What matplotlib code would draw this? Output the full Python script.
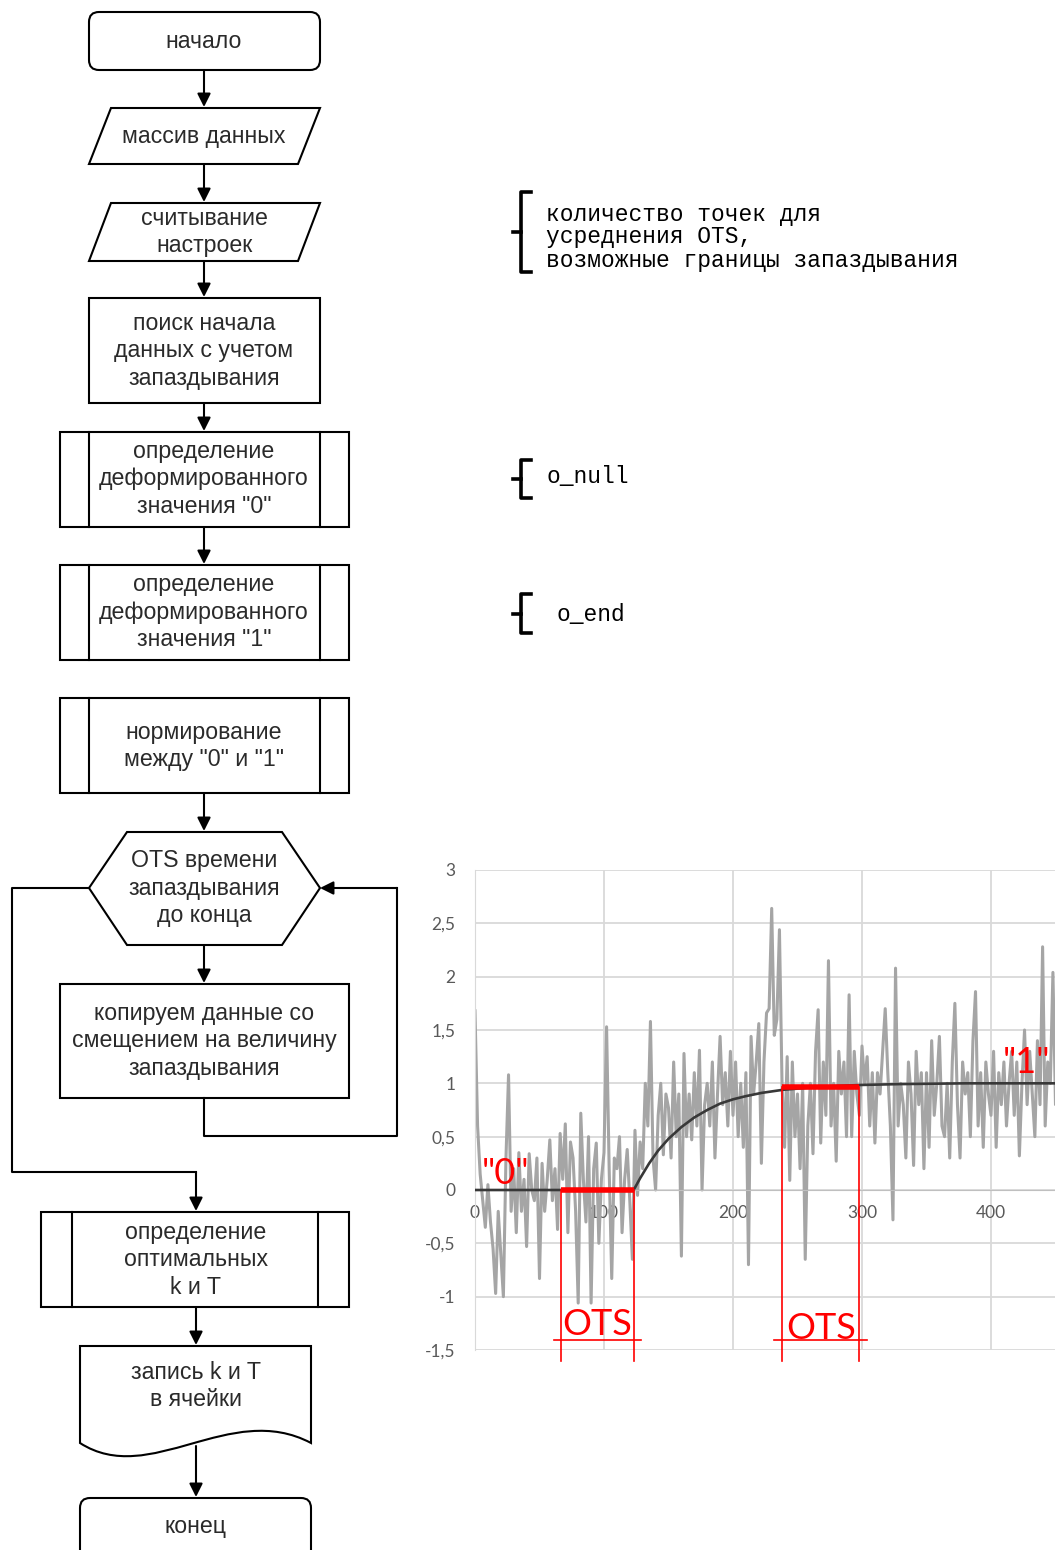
import numpy as np
import matplotlib
matplotlib.use('Agg')
import matplotlib.pyplot as plt
from matplotlib.patches import Polygon, Rectangle, FancyBboxPatch, PathPatch
from matplotlib.path import Path

# noisy signal, one value every 2 samples
sig_step = 2
sig = [1.68, 0.6, 0.15, -0.1, -0.35, 0.05, -0.3, -0.55, -0.97, -0.2,
       -0.6, -1.0, 0.3, 1.08, -0.2, 0.2, -0.4, 0.35, -0.2, 0.1,
       -0.53, 0.34, 0.0, -0.1, 0.3, -0.83, 0.25, -0.2, 0.1, 0.47,
       -0.1, 0.2, -0.37, 0.53, 0.1, 0.62, -0.4, 0.45, 0.3, -0.2,
       -1.06, 0.72, 0.1, -0.3, 0.5, -1.06, 0.2, 0.44, -0.5, 0.1,
       0.35, 1.53, 0.2, -0.83, 0.3, 0.2, 0.5, -0.4, 0.1, 0.38,
       -0.1, -0.65, 0.56, -0.05, 0.45, 0.2, 1.0, 0.6, 1.58, 0.3,
       0.0, 0.7, 1.0, 0.33, 0.9, 0.77, 0.3, 1.2, 0.5, 0.9,
       -0.62, 1.28, 0.5, 0.9, 0.47, 1.1, 0.6, 1.31, 0.0, 0.8,
       1.0, 0.6, 1.2, 0.3, 0.9, 1.44, 0.8, 1.1, 0.6, 1.3,
       0.7, 1.2, 0.5, 1.0, 0.4, 1.1, -0.7, 1.44, 0.9, 1.2,
       1.56, 0.25, 1.2, 1.66, 1.7, 2.64, 1.45, 1.6, 2.44, 1.0,
       0.4, 1.25, 0.09, 1.2, 0.5, 0.9, 0.2, 1.0, -0.65, 0.6,
       1.0, 0.34, 1.3, 1.69, 0.44, 1.2, 0.7, 2.15, 0.6, 1.0,
       0.27, 1.3, 0.9, 1.2, 0.5, 1.83, 0.5, 1.3, 0.9, 0.7,
       1.35, 1.0, 1.25, 0.6, 1.1, 0.44, 1.1, 0.9, 1.3, 1.7,
       1.1, 0.6, -0.28, 2.08, 0.6, 1.0, 0.8, 0.3, 1.2, 0.9,
       0.23, 1.3, 0.8, 1.1, 0.2, 1.1, 0.4, 1.4, 0.7, 1.0,
       1.44, 0.6, 0.5, 1.0, 0.3, 1.2, 1.75, 0.8, 0.3, 1.2,
       0.9, 1.1, 0.5, 1.4, 1.86, 0.6, 1.1, 0.4, 1.2, 0.9,
       0.7, 1.3, 0.4, 1.1, 0.8, 1.2, 0.6, 1.0, 1.3, 0.7,
       1.2, 0.32, 1.0, 1.5, 0.8, 1.3, 0.9, 0.5, 1.4, 0.8,
       2.28, 0.6, 1.2, 1.0, 2.04, 0.8, 1.2, 0.5, 1.4, 0.9]

# model curve (black)
curve_t = [0, 123, 128, 135, 142, 150, 160, 170, 180, 190, 200, 210, 222,
           239, 260, 280, 300, 330, 380, 470]
curve_v = [0, 0, 0.11, 0.25, 0.37, 0.48, 0.59, 0.68, 0.75, 0.81, 0.85, 0.88,
           0.91, 0.94, 0.96, 0.975, 0.985, 0.993, 1.0, 1.0]

ots_zero = [67, 123]
ots_one = [238, 298]
one_level = 0.97

yticks = [-1.5, -1, -0.5, 0, 0.5, 1, 1.5, 2, 2.5, 3]
ytick_labels = ['-1,5', '-1', '-0,5', '0', '0,5', '1', '1,5', '2', '2,5', '3']
xticks = [0, 100, 200, 300, 400]

notes = ['количество точек для', 'усреднения OTS,', 'возможные границы запаздывания']

fig = plt.figure(figsize=(10.55, 15.5), dpi=100)
fc = fig.add_axes([0, 0, 1, 1])
fc.set_xlim(0, 1055)
fc.set_ylim(1550, 0)
fc.axis('off')

LW = 1.5
TXT = dict(family=['Liberation Sans', 'DejaVu Sans'], fontsize=16.7, color='#2a2a2a')


def label(cx, cy, lines, step=27.5):
    for i, s in enumerate(lines):
        y = cy + (i - (len(lines) - 1) / 2) * step
        fc.text(cx, y, s, ha='center', va='center', **TXT)


def arrow(x0, y0, x1, y1):
    fc.annotate('', xy=(x1, y1), xytext=(x0, y0),
                arrowprops=dict(arrowstyle='-|>', color='k', lw=LW,
                                mutation_scale=20, shrinkA=0, shrinkB=0))


def rounded(x0, y0, x1, y1):
    fc.add_patch(FancyBboxPatch((x0, y0), x1 - x0, y1 - y0,
                                boxstyle='round,pad=0,rounding_size=10',
                                fc='white', ec='k', lw=LW))


def rect(x0, y0, x1, y1):
    fc.add_patch(Rectangle((x0, y0), x1 - x0, y1 - y0, fc='white', ec='k', lw=LW))


def predef(x0, y0, x1, y1, inner):
    rect(x0, y0, x1, y1)
    for x in inner:
        fc.plot([x, x], [y0, y1], color='k', lw=LW)


def para(x0, y0, x1, y1, s=22):
    fc.add_patch(Polygon([(x0 + s, y0), (x1, y0), (x1 - s, y1), (x0, y1)],
                         closed=True, fc='white', ec='k', lw=LW))


# blocks
rounded(89, 12, 320, 70)
label(204, 41, ['начало'])
arrow(204, 70, 204, 107)

para(89, 108, 320, 164)
label(204, 136, ['массив данных'])
arrow(204, 164, 204, 202)

para(89, 203, 320, 261)
label(204, 232, ['считывание', 'настроек'])
arrow(204, 261, 204, 297)

rect(89, 298, 320, 403)
label(204, 351, ['поиск начала', 'данных с учетом', 'запаздывания'])
arrow(204, 403, 204, 431)

predef(60, 432, 349, 527, [89, 320])
label(204, 479, ['определение', 'деформированного', 'значения "0"'])
arrow(204, 527, 204, 564)

predef(60, 565, 349, 660, [89, 320])
label(204, 612, ['определение', 'деформированного', 'значения "1"'])

predef(60, 698, 349, 793, [89, 320])
label(204, 746, ['нормирование', 'между "0" и "1"'])
arrow(204, 793, 204, 831)

fc.add_patch(Polygon([(89, 888), (127, 832), (282, 832), (320, 888), (282, 945), (127, 945)],
                     closed=True, fc='white', ec='k', lw=LW))
label(204, 888, ['OTS времени', 'запаздывания', 'до конца'])
arrow(204, 945, 204, 983)

rect(60, 984, 349, 1098)
label(204, 1041, ['копируем данные со', 'смещением на величину', 'запаздывания'])
fc.plot([204, 204, 397, 397], [1098, 1136, 1136, 888], color='k', lw=LW)
arrow(397, 888, 320, 888)
fc.plot([89, 12, 12, 196], [888, 888, 1172, 1172], color='k', lw=LW)
arrow(196, 1172, 196, 1211)

predef(41, 1212, 349, 1307, [72, 318])
label(196, 1260, ['определение', 'оптимальных', 'k и T'])
arrow(196, 1307, 196, 1345)

doc = Path([(80, 1346), (311, 1346), (311, 1443), (230, 1400), (150, 1488), (80, 1443), (80, 1346)],
           [Path.MOVETO, Path.LINETO, Path.LINETO, Path.CURVE4, Path.CURVE4, Path.CURVE4, Path.CLOSEPOLY])
fc.add_patch(PathPatch(doc, fc='white', ec='k', lw=LW))
label(196, 1386, ['запись k и T', 'в ячейки'])
arrow(196, 1446, 196, 1497)

rounded(80, 1498, 311, 1575)
label(196, 1527, ['конец'])

# side notes with brackets
MONO = dict(family=['Liberation Mono', 'DejaVu Sans Mono'], fontsize=16.5, color='k')


def bracket(x, y0, y1):
    ym = (y0 + y1) / 2
    fc.plot([x + 10, x, x, x + 10], [y0, y0, y1, y1], color='k', lw=2.6)
    fc.plot([x - 8, x], [ym, ym], color='k', lw=2.6)


bracket(521, 192, 272)
for i, s in enumerate(notes):
    fc.text(546, 214 + i * 23, s, ha='left', va='center', **MONO)
bracket(521, 460, 498)
fc.text(546, 477, 'o_null', ha='left', va='center', **MONO)
bracket(521, 594, 633)
fc.text(556, 614, 'o_end', ha='left', va='center', **MONO)

# chart
ax = fig.add_axes([475 / 1055, 200 / 1550, 470 * 1.29 / 1055, 480 / 1550])
ax.set_facecolor('white')
t_sig = np.arange(len(sig)) * sig_step
ax.plot(t_sig, sig, color='#a5a5a5', lw=2.2, zorder=2)
ax.plot(curve_t, curve_v, color='#383838', lw=1.9, zorder=3)

ax.plot(ots_zero, [0, 0], color='red', lw=4, solid_capstyle='butt', zorder=4)
ax.plot(ots_one, [one_level, one_level], color='red', lw=4, solid_capstyle='butt', zorder=4)
for x in ots_zero:
    ax.plot([x, x], [0, -1.6], color='red', lw=1.2, zorder=4, clip_on=False)
for x in ots_one:
    ax.plot([x, x], [one_level, -1.6], color='red', lw=1.2, zorder=4, clip_on=False)
ax.plot([ots_zero[0] - 6, ots_zero[1] + 6], [-1.41, -1.41], color='red', lw=1.2, zorder=4)
ax.plot([ots_one[0] - 6, ots_one[1] + 6], [-1.41, -1.41], color='red', lw=1.2, zorder=4)

RED = dict(family=['Lato', 'DejaVu Sans'], fontsize=26, color='red', zorder=5)
ax.text(sum(ots_zero) / 2, -1.36, 'OTS', ha='center', va='baseline', **RED)
ax.text(sum(ots_one) / 2, -1.40, 'OTS', ha='center', va='baseline', **RED)
ax.text(24, 0.06, '"0"', ha='center', va='baseline', **RED)
ax.text(409, 1.1, '"1"', ha='left', va='baseline', **RED)

ax.set_xlim(0, 470)
ax.set_ylim(-1.5, 3)
ax.set_yticks(yticks)
ax.set_yticklabels(ytick_labels)
ax.set_xticks(xticks)
ax.set_xticklabels([str(v) for v in xticks])
ax.grid(True, color='#d9d9d9', lw=1.3, zorder=0)
ax.set_axisbelow(True)
for sp in ['top', 'right']:
    ax.spines[sp].set_visible(False)
ax.spines['left'].set_color('#d9d9d9')
ax.spines['bottom'].set_position(('data', 0))
ax.spines['bottom'].set_color('#bfbfbf')
ax.tick_params(length=0, labelsize=12.5, labelcolor='#595959')
ax.tick_params(axis='y', pad=14)
ax.tick_params(axis='x', pad=11)
for lab in ax.get_xticklabels() + ax.get_yticklabels():
    lab.set_family(['Lato', 'DejaVu Sans'])

fig.savefig('out.png', dpi=100)
